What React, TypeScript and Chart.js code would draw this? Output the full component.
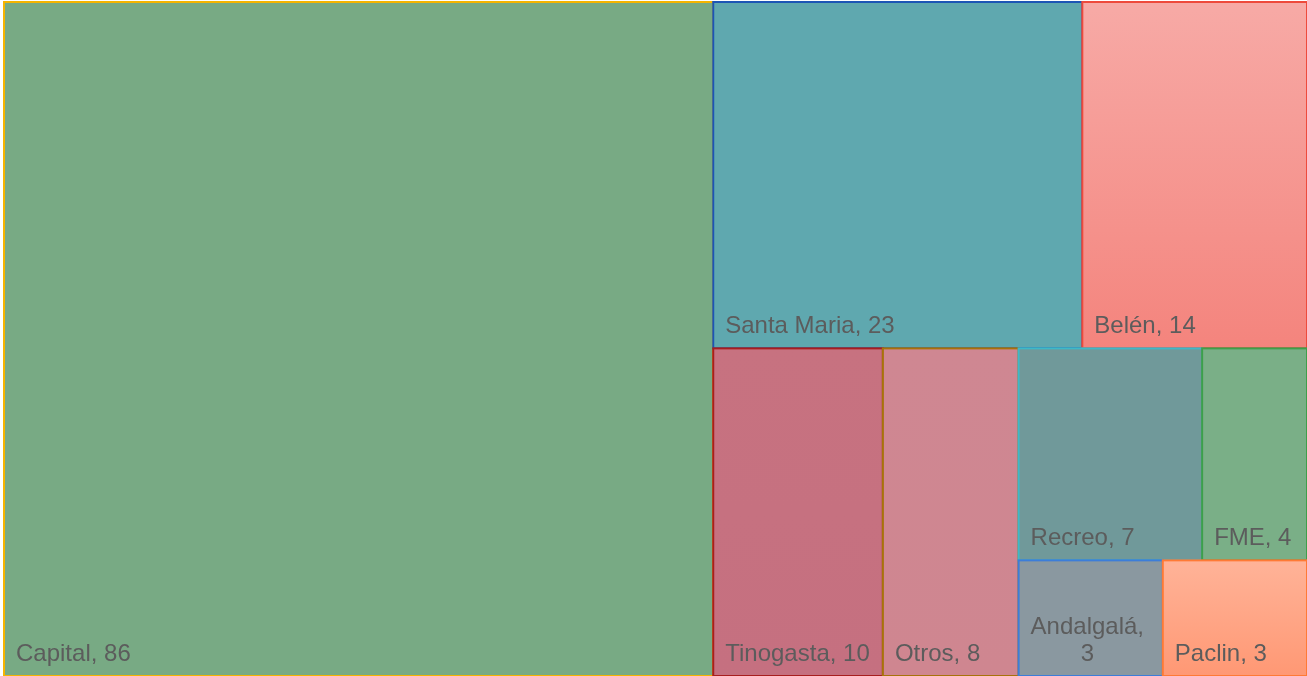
import React, { useEffect, useRef } from "react";
import { Chart, registerables } from "chart.js";

Chart.register(...registerables);

// ---- data ----
const categories: string[] = [
  "Capital",
  "Santa Maria",
  "Belén",
  "Tinogasta",
  "Otros",
  "Recreo",
  "FME",
  "Andalgalá",
  "Paclin",
];
const values: number[] = [86, 23, 14, 10, 8, 7, 4, 3, 3];

// ---- styles ----
const fillTop: string[] = [
  "#78AA84",
  "#5FA8AF",
  "#F7AAA6",
  "#C77280",
  "#CF8792",
  "#70999A",
  "#7AAF87",
  "#8A98A0",
  "#FFB398",
];
const fillBottom: string[] = [
  "#78AA84",
  "#5FA8AF",
  "#F4847D",
  "#C57080",
  "#CF8690",
  "#70999A",
  "#7AAF87",
  "#8A98A0",
  "#FF9874",
];
const borderColors: string[] = [
  "#F5B400",
  "#1C55B5",
  "#EE4A3C",
  "#A81E1E",
  "#A8720A",
  "#3EB8C8",
  "#3E9F4A",
  "#3C7DD9",
  "#FF7A35",
];

type R = { x0: number; y0: number; x1: number; y1: number };

// squarified layout (golden-ratio target), row members placed side by side
function squarifyLayout(vals: number[], W: number, H: number): R[] {
  const ratio = (1 + Math.sqrt(5)) / 2;
  let x0 = 0,
    y0 = 0;
  const x1 = W,
    y1 = H;
  let value = vals.reduce((a, b) => a + b, 0);
  const out: R[] = [];
  let i0 = 0,
    i1 = 0;
  const n = vals.length;
  while (i0 < n) {
    const dx = x1 - x0,
      dy = y1 - y0;
    let sum = vals[i1++];
    let minV = sum,
      maxV = sum;
    const alpha = Math.max(dy / dx, dx / dy) / (value * ratio);
    let beta = sum * sum * alpha;
    let minRatio = Math.max(maxV / beta, beta / minV);
    for (; i1 < n; ++i1) {
      const v = vals[i1];
      sum += v;
      if (v < minV) minV = v;
      if (v > maxV) maxV = v;
      beta = sum * sum * alpha;
      const nr = Math.max(maxV / beta, beta / minV);
      if (nr > minRatio) {
        sum -= v;
        break;
      }
      minRatio = nr;
    }
    let rx0 = x0,
      ry0 = y0,
      rx1 = x1,
      ry1 = y1;
    if (dx < dy) {
      ry1 = y0 + (dy * sum) / value;
      y0 = ry1;
    } else {
      rx1 = x0 + (dx * sum) / value;
      x0 = rx1;
    }
    let cx = rx0;
    for (let k = i0; k < i1; k++) {
      const w = ((rx1 - rx0) * vals[k]) / sum;
      out.push({ x0: cx, y0: ry0, x1: cx + w, y1: ry1 });
      cx += w;
    }
    value -= sum;
    i0 = i1;
  }
  return out;
}

function wrapText(ctx: CanvasRenderingContext2D, text: string, maxW: number): string[] {
  if (ctx.measureText(text).width <= maxW) return [text];
  const words = text.split(" ");
  const lines: string[] = [];
  let cur = "";
  for (const w of words) {
    const test = cur ? cur + " " + w : w;
    if (cur && ctx.measureText(test).width > maxW) {
      lines.push(cur);
      cur = w;
    } else {
      cur = test;
    }
  }
  if (cur) lines.push(cur);
  return lines;
}

const treemapPlugin = {
  id: "treemapDraw",
  afterDatasetsDraw(chart: any) {
    const { ctx, chartArea, scales } = chart;
    const xs = scales.x;
    const ys = scales.y;
    const aspect = (chartArea.right - chartArea.left) / (chartArea.bottom - chartArea.top);
    const rects = squarifyLayout(values, aspect, 1);
    ctx.save();
    rects.forEach((r, i) => {
      const px0 = xs.getPixelForValue(r.x0 / aspect);
      const px1 = xs.getPixelForValue(r.x1 / aspect);
      const py0 = ys.getPixelForValue(r.y0);
      const py1 = ys.getPixelForValue(r.y1);
      const g = ctx.createLinearGradient(0, py0, 0, py1);
      g.addColorStop(0, fillTop[i]);
      g.addColorStop(1, fillBottom[i]);
      ctx.fillStyle = g;
      ctx.fillRect(px0, py0, px1 - px0, py1 - py0);
      ctx.strokeStyle = borderColors[i];
      ctx.lineWidth = 2;
      ctx.strokeRect(px0, py0, px1 - px0, py1 - py0);
    });
    ctx.font = '24px "Liberation Sans", Arial, sans-serif';
    ctx.fillStyle = "#5c5c5c";
    ctx.textBaseline = "alphabetic";
    rects.forEach((r, i) => {
      const px0 = xs.getPixelForValue(r.x0 / aspect);
      const px1 = xs.getPixelForValue(r.x1 / aspect);
      const py1 = ys.getPixelForValue(r.y1);
      const label = categories[i] + ", " + values[i];
      const lines = wrapText(ctx, label, px1 - px0 - 22);
      const widths = lines.map((l) => ctx.measureText(l).width);
      const blockW = Math.max(...widths);
      const lh = 27;
      lines.forEach((l, k) => {
        const baseline = py1 - 15 - (lines.length - 1 - k) * lh;
        const x = px0 + 12 + (lines.length > 1 ? (blockW - widths[k]) / 2 : 0);
        ctx.textAlign = "left";
        ctx.fillText(l, x, baseline);
      });
    });
    ctx.restore();
  },
};

export default function App() {
  const ref = useRef<HTMLCanvasElement | null>(null);
  useEffect(() => {
    document.body.style.margin = "0";
    const canvas = ref.current;
    if (!canvas) return;
    const chart = new Chart(canvas, {
      type: "scatter",
      data: {
        datasets: [{ label: "treemap", data: [] }],
      },
      options: {
        animation: false,
        responsive: false,
        layout: { padding: { left: 4, top: 2, right: 0, bottom: 0 } },
        plugins: { legend: { display: false }, tooltip: { enabled: false } },
        scales: {
          x: { type: "linear", min: 0, max: 1, display: false },
          y: { type: "linear", min: 0, max: 1, reverse: true, display: false },
        },
      },
      plugins: [treemapPlugin],
    });
    return () => chart.destroy();
  }, []);
  return (
    <div style={{ width: 1307, height: 676 }}>
      <canvas ref={ref} width={1307} height={676} style={{ display: "block" }} />
    </div>
  );
}
